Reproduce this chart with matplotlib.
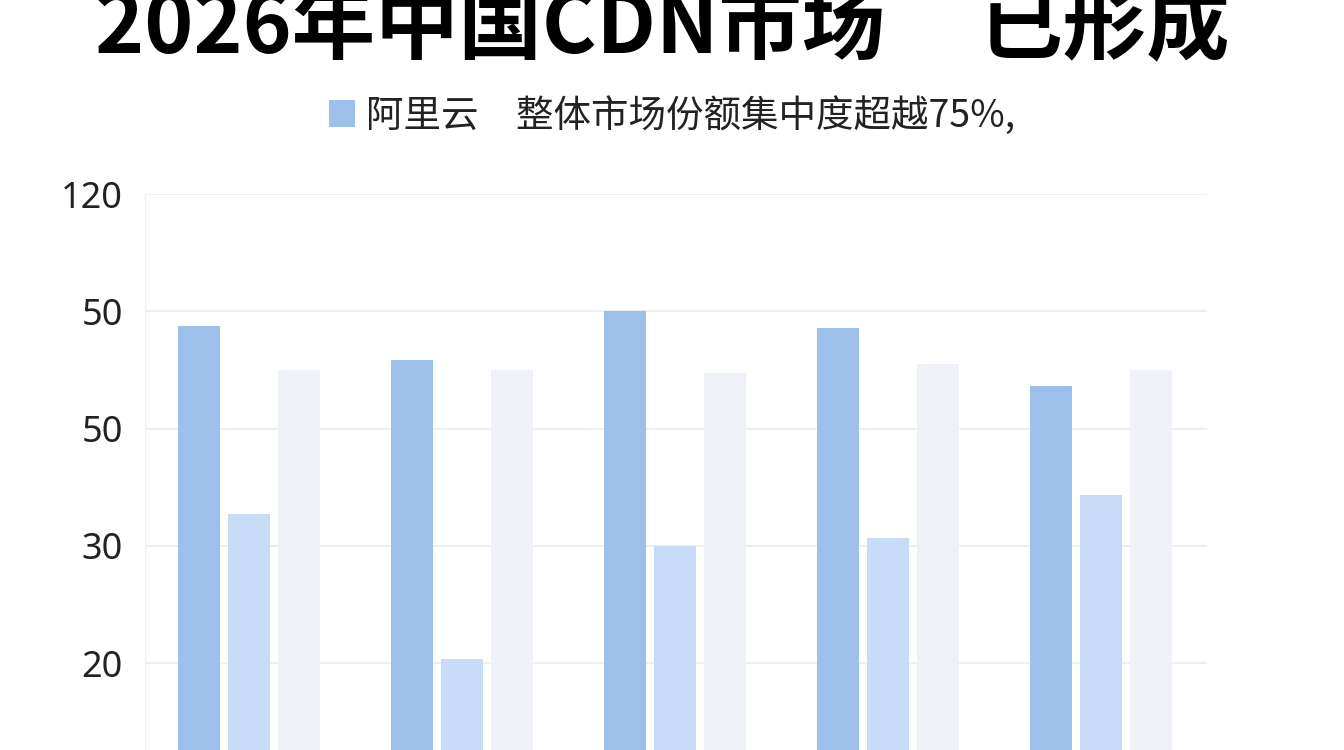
import numpy as np
import matplotlib.pyplot as plt
from matplotlib.patches import Patch

plt.rcParams['font.family'] = ['Noto Sans CJK SC', 'DejaVu Sans']

# values (axis is linear, tick labels as printed)
groups = np.arange(5)
aliyun = [48.7, 45.8, 50.0, 48.6, 43.6]
second = [32.7, 20.3, 30.0, 30.7, 34.3]
third = [45.0, 45.0, 44.7, 45.5, 45.0]
tick_pos = [20, 30, 40, 50, 60]
tick_labels = ['20', '30', '50', '50', '120']

title = '2026年中国CDN市场     已形成'
legend_label = '阿里云\u3000整体市场份额集中度超越75%,'

c_dark = '#9dc0eb'
c_mid = '#c7ddf7'
c_light = '#eef2f8'

W, H = 1344, 750
fig = plt.figure(figsize=(W / 100, H / 100), dpi=100)
fig.patch.set_facecolor('white')

ax = fig.add_axes([145 / W, 0, (1207 - 145) / W, (750 - 194) / H])
w = 0.197
off = 0.235
ax.bar(groups - off, aliyun, w, color=c_dark, zorder=2)
ax.bar(groups, second, w, color=c_mid, zorder=2)
ax.bar(groups + off, third, w, color=c_light, zorder=2)

ax.set_xlim(-0.49, 4.50)
ax.set_ylim(12.58, 60)
ax.set_yticks(tick_pos)
ax.set_yticklabels(tick_labels, fontsize=26, color='#222222', family=['Noto Sans', 'DejaVu Sans'])
ax.tick_params(axis='y', length=0, pad=16)
ax.set_xticks([])
ax.grid(axis='y', color='#ebebeb', linewidth=1.2, zorder=0)
for s in ['top', 'right', 'bottom']:
    ax.spines[s].set_visible(False)
ax.spines['left'].set_color('#f0f0f0')
ax.spines['left'].set_linewidth(1)

fig.text(662 / W, 1 - 52 / H, title, ha='center', va='baseline',
         fontsize=60, fontweight='bold', color='black')

fig.legend([Patch(facecolor=c_dark)], [legend_label], loc='center',
           bbox_to_anchor=(672 / W, 1 - 116 / H), frameon=False,
           fontsize=27, handlelength=0.7, handleheight=0.7,
           handletextpad=0.3, labelcolor='#222222')

fig.savefig('out.png', dpi=100)
